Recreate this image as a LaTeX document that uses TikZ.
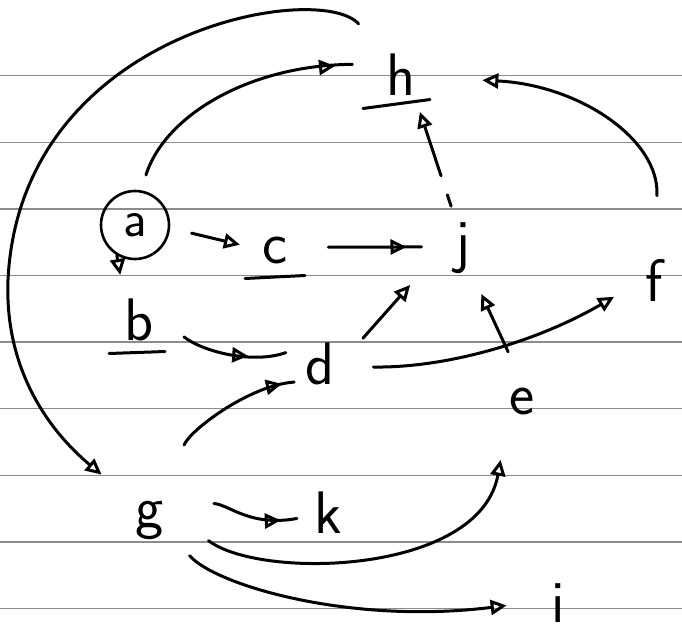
\documentclass[tikz,border=0pt]{standalone}
\usepackage{tikz}
\usetikzlibrary{positioning,arrows.meta,decorations.markings}

\begin{document}
\begin{tikzpicture}[x=1pt, y=-1pt, >={Triangle[open,length=16pt,width=15pt]},
			line width=3pt, line cap=round, line join=round,
			letter/.style={circle, inner sep=0pt, minimum size=60pt, font=\sffamily\fontsize{60}{60}\selectfont},
			paper/.style={black!45, line width=1.3pt},
			midhead/.style={postaction={decorate}, decoration={markings, mark=at position #1 with {\arrow{>}}}}]

	\useasboundingbox (0,0) rectangle (682,642);
	% ruled paper
	\foreach \k in {0,...,8}
		\draw[paper] (0,{75.7+66.6*\k}) -- (682,{75.7+66.6*\k});

	\node[letter, draw, minimum size=68pt, line width=2.6pt, font=\sffamily\fontsize{52}{52}\selectfont] (a) at (135,225) {a};
	\node[letter] (c) at (275,250) {c};
	\node[letter] (j) at (463,248) {j};
	\node[letter] (h) at (401,75) {h};
	\node[letter] (b) at (139,320) {b};
	\node[letter] (d) at (320,364) {d};
	\node[letter] (e) at (522,401) {e};
	\node[letter] (f) at (654,280) {f};
	\node[letter] (g) at (150,520) {g};
	\node[letter] (k) at (328,513) {k};
	\node[letter] (i) at (558,603) {i};

	% underlines
	\draw (c.south) ++(-30,-3) -- ++(60,-3);
	\draw (h.south) ++(-38,2) -- ++(67,-9);
	\draw (b.south) ++(-30,2) -- ++(56,-2);

	\draw[->, shorten <=22pt, shorten >=4pt] (a.-5) -- (c.172);
	\draw[midhead=.8, shorten <=22pt, shorten >=10pt] (c.5) -- (j.178);
	\draw[->, shorten >=18pt] (a.239) -- (b.120);
	\draw[midhead=.66, shorten <=18pt, shorten >=6pt] (b.-10) .. controls (200,350) and (250,365) .. (d.155);
	\draw[->, shorten <=20pt, shorten >=35pt] (d.20) -- (j.200);
	\draw[->, shorten <=20pt, shorten >=18pt] (e.100) -- (j.290);
	\draw[->, shorten <=22pt, shorten >=12pt] (d.-5) .. controls (450,368) and (540,340) .. (f.200);
	\draw[->, shorten <=53pt, shorten >=50pt] (f.90) .. controls (660,140) and (580,85) .. (h.-5);
	\draw[midhead=.87, shorten <=16pt, shorten >=19pt] (a.80) .. controls (165,115) and (250,65) .. (h.160);
	\draw[->, shorten <=35pt, shorten >=35pt] (h.128) .. controls (320,-20) and (20,30) .. (8,280)
		.. controls (4,380) and (60,440) .. (g.133);
	\draw[midhead=.93, shorten <=51pt] (g.61) .. controls (190,430) and (250,385) .. (d.215);
	\draw[midhead=.87, shorten <=40pt] (g.40) .. controls (230,505) and (250,527) .. (k.190);
	\draw[->, shorten <=34pt, shorten >=32pt] (g.0) .. controls (260,580) and (480,575) .. (e.240);
	\draw[->, shorten <=22pt, shorten >=20pt] (g.-37) .. controls (215,585) and (350,625) .. (i.180);
	\draw[->, shorten <=12pt, shorten >=10pt, dash pattern=on 12pt off 20pt on 70pt] (j.105) -- (h.-60);
\end{tikzpicture}
\end{document}
